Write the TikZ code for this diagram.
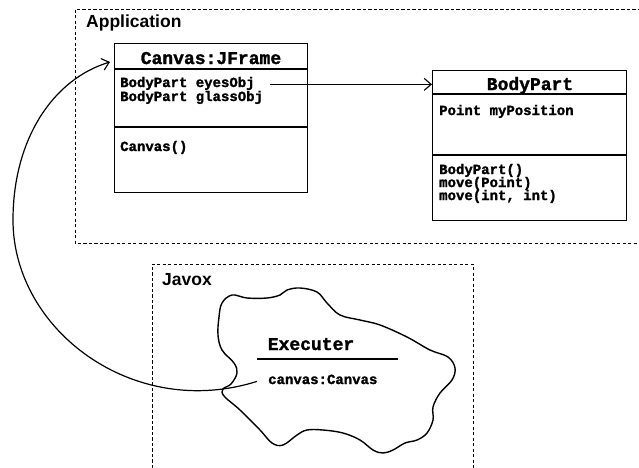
\documentclass[tikz,border=0pt]{standalone}
\usepackage{fontspec}
\setmainfont{Liberation Sans}
\newfontfamily\umlfont[FakeBold=1.6]{Liberation Mono}
\usetikzlibrary{arrows.meta}

\begin{document}
\begin{tikzpicture}[x=1pt,y=-1pt,
  pkg/.style={draw, line width=1pt, dash pattern=on 3.2pt off 2.3pt},
  umlbox/.style={draw, line width=1.4pt, inner sep=0pt, anchor=north west},
  sep/.style={line width=1.2pt},
  classname/.style={font=\umlfont\bfseries\fontsize{18}{18}\selectfont, inner sep=0pt, anchor=base},
  member/.style={font=\umlfont\bfseries\fontsize{14}{14}\selectfont, inner sep=0pt, anchor=base west},
  pkglabel/.style={font=\bfseries\fontsize{17.5}{17.5}\selectfont, inner sep=0pt, anchor=base west},
  link/.style={line width=1.2pt, -{Straight Barb[length=7pt,width=12pt,line width=1.1pt]}},
  blob/.style={line width=1.4pt},
]
\useasboundingbox (0,0) rectangle (639,467);

% package frames
\draw[pkg] (641,9) -- (75,9) -- (75,243) -- (641,243);
\node[pkglabel] (applbl) at (86,27) {Application};
\draw[pkg] (152,468) -- (152,264) -- (473,264) -- (473,468);
\node[pkglabel] (javlbl) at (162,285) {Javox};

% class Canvas:JFrame
\node[umlbox, minimum width=193pt, minimum height=149pt] (frame) at (114,43) {};
\draw[sep] (frame.west |- 0,69) -- (frame.east |- 0,69);
\draw[sep] (frame.west |- 0,127) -- (frame.east |- 0,127);
\node[classname] (framettl) at (211,64) {Canvas:JFrame};
\node[member] (eyes) at (120,87) {BodyPart eyesObj};
\node[member] (glass) at (120,101) {BodyPart glassObj};
\node[member] (ctor) at (120,151) {Canvas()};

% class BodyPart
\node[umlbox, minimum width=194pt, minimum height=150pt] (bp) at (432,70) {};
\draw[sep] (bp.west |- 0,94) -- (bp.east |- 0,94);
\draw[sep] (bp.west |- 0,155) -- (bp.east |- 0,155);
\node[classname] (bpttl) at (530,90) {BodyPart};
\node[member] (pos) at (439,115) {Point myPosition};
\node[member] (bpctor) at (439,174) {BodyPart()};
\node[member] (mv1) at (439,187) {move(Point)};
\node[member] (mv2) at (439,200) {move(int, int)};

% association to BodyPart
\draw[link] ([xshift=15pt]eyes.mid east) -- (eyes.mid east -| bp.west);

% Executer object cloud
\draw[blob] plot[smooth cycle, tension=0.6] coordinates {
  (222,303) (232,295) (247,298) (267,298) (280,295) (287,290) (300,288)
  (317,292) (327,303) (340,315) (360,320) (380,325) (407,337) (430,350)
  (448,357) (455,368) (452,380) (440,393) (433,407) (433,420) (427,433)
  (417,440) (405,443) (393,450) (383,453) (373,450) (360,440) (343,433)
  (323,430) (307,430) (297,435) (283,445) (272,443) (260,430) (240,410)
  (224,396) (223,389) (231,384) (237,373) (234,363) (222,350) (218,335)
  (219,317)};
\node[classname] (exec) at (311,350) {Executer};
\draw[sep] (257,359) -- (398,359);
\node[member] (cv) at (268,384) {canvas:Canvas};

% reference from the Executer back to the Canvas frame
\coordinate (cvstart) at ([xshift=-11pt]cv.mid west);
\coordinate (leftmost) at (13,220);
\coordinate (ftip) at ([xshift=-4pt]frame.north west |- 0,62);
\draw[link] (cvstart) .. controls (133.5,420.6) and (13,330) .. (leftmost)
  .. controls (13,140) and (52.4,79.4) .. (ftip);
\end{tikzpicture}
\end{document}
